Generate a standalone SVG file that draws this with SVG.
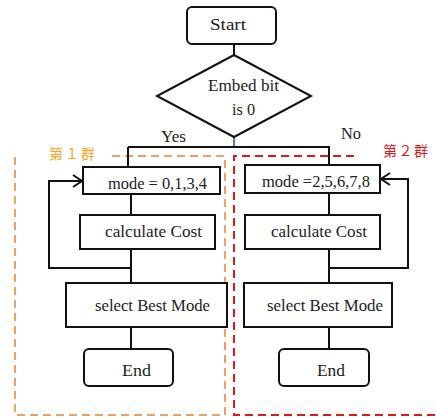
<svg xmlns="http://www.w3.org/2000/svg" width="436" height="419" viewBox="0 0 436 419">
<defs>
<style>
.box{fill:#fff;stroke:#111;stroke-width:2}
.ln{fill:none;stroke:#111;stroke-width:2}
.t{font-family:"Liberation Serif","DejaVu Serif",serif;font-size:17px;fill:#222}
.cjk{font-family:"Noto Sans CJK SC","Noto Sans CJK JP",sans-serif;font-size:14px}
</style>
<marker id="ah" markerWidth="14" markerHeight="14" refX="11" refY="7" orient="auto" markerUnits="userSpaceOnUse">
<path d="M2,1 L11,7 L2,13" fill="none" stroke="#111" stroke-width="2"/>
</marker>
</defs>
<rect width="436" height="419" fill="#fff"/>
<g id="groups">
<path d="M112,156 H225 V415 H15 V156" fill="none" stroke="#f0a060" stroke-width="2" stroke-dasharray="8,5"/>
<path d="M354,156 H234 V415 H436" fill="none" stroke="#e01818" stroke-width="2" stroke-dasharray="8,5"/>
<text class="cjk" x="49" y="159" fill="#f5a623" textLength="46">第１群</text>
<text class="cjk" x="383" y="156" fill="#e01818" textLength="45">第２群</text>
</g>
<g id="connectors">
<path class="ln" d="M234,44 V55"/>
<path d="M234,137 V147" stroke="#4a7fc0" stroke-width="2"/>
<path class="ln" d="M128,147 H330"/>
<path class="ln" d="M128,147 V167"/>
<path class="ln" d="M329,147 V165"/>
<path class="ln" d="M131,194 V215"/>
<path class="ln" d="M131,249 V283"/>
<path class="ln" d="M131,268 H49 V181 H82" marker-end="url(#ah)"/>
<path class="ln" d="M131,327 V349"/>
<path class="ln" d="M329,193 V215"/>
<path class="ln" d="M329,249 V283"/>
<path class="ln" d="M329,268 H408 V179 H381" marker-end="url(#ah)"/>
<path class="ln" d="M329,327 V349"/>
<text class="t" x="161" y="142" textLength="25" lengthAdjust="spacingAndGlyphs">Yes</text>
<text class="t" x="341" y="139" textLength="20" lengthAdjust="spacingAndGlyphs">No</text>
</g>
<g id="start">
<rect class="box" x="187" y="7" width="89" height="37" rx="5"/>
<text class="t" x="210" y="30" textLength="36" lengthAdjust="spacingAndGlyphs">Start</text>
</g>
<g id="decision">
<polygon class="box" points="234,55 311,96 234,137 157,96"/>
<text class="t" x="208" y="91" textLength="71" lengthAdjust="spacingAndGlyphs">Embed bit</text>
<text class="t" x="232" y="115" textLength="23" lengthAdjust="spacingAndGlyphs">is 0</text>
</g>
<g id="mode1">
<rect class="box" x="83" y="167" width="137" height="27"/>
<text class="t" x="108" y="189" textLength="99" lengthAdjust="spacingAndGlyphs">mode = 0,1,3,4</text>
</g>
<g id="cost1">
<rect class="box" x="80" y="215" width="135" height="34"/>
<text class="t" x="105" y="237" textLength="97" lengthAdjust="spacingAndGlyphs">calculate Cost</text>
</g>
<g id="select1">
<rect class="box" x="66" y="283" width="161" height="44"/>
<text class="t" x="95" y="311" textLength="115" lengthAdjust="spacingAndGlyphs">select Best Mode</text>
</g>
<g id="end1">
<rect class="box" x="84" y="349" width="89" height="37" rx="5"/>
<text class="t" x="122" y="376" textLength="29" lengthAdjust="spacingAndGlyphs">End</text>
</g>
<g id="mode2">
<rect class="box" x="245" y="165" width="135" height="28"/>
<text class="t" x="262" y="187" textLength="108" lengthAdjust="spacingAndGlyphs">mode =2,5,6,7,8</text>
</g>
<g id="cost2">
<rect class="box" x="245" y="215" width="135" height="34"/>
<text class="t" x="271" y="237" textLength="96" lengthAdjust="spacingAndGlyphs">calculate Cost</text>
</g>
<g id="select2">
<rect class="box" x="244" y="283" width="148" height="44"/>
<text class="t" x="267" y="311" textLength="116" lengthAdjust="spacingAndGlyphs">select Best Mode</text>
</g>
<g id="end2">
<rect class="box" x="279" y="349" width="90" height="37" rx="5"/>
<text class="t" x="317" y="376" textLength="28" lengthAdjust="spacingAndGlyphs">End</text>
</g>
</svg>
